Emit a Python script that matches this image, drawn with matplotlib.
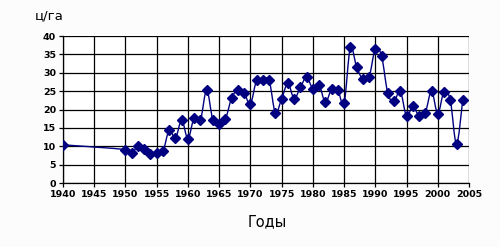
import matplotlib

matplotlib.use("Agg")
import matplotlib.pyplot as plt
import numpy as np
from matplotlib.patches import PathPatch
from matplotlib.path import Path

years = [1940] + list(range(1950, 2005))
yields = [
    10.4,
    9.1, 8.1, 10.1, 9.2, 7.8, 8.3, 8.6, 14.4, 12.2, 17.1,
    12.1, 17.8, 17.1, 25.3, 17.1, 16.0, 17.4, 23.1, 25.4, 24.5,
    21.5, 28.0, 28.0, 28.0, 19.1, 22.9, 27.1, 23.0, 26.0, 28.8,
    25.7, 26.7, 22.0, 25.5, 25.3, 21.7, 36.9, 31.6, 28.3, 28.8,
    36.5, 34.6, 24.4, 22.3, 25.0, 18.2, 20.9, 18.3, 19.1, 25.0,
    18.9, 24.9, 22.6, 10.6, 22.6,
]
x_ticks = list(range(1940, 2006, 5))
y_ticks = list(range(0, 41, 5))

NAVY = "#000080"


def smooth_path(xs, ys, tension=1.0 / 6.0):
    """Catmull-Rom style cubic Bezier path through the points (Excel-like smoothing)."""
    pts = np.column_stack([xs, ys]).astype(float)
    verts = [pts[0]]
    codes = [Path.MOVETO]
    n = len(pts)
    for i in range(n - 1):
        p0 = pts[max(i - 1, 0)]
        p1 = pts[i]
        p2 = pts[i + 1]
        p3 = pts[min(i + 2, n - 1)]
        c1 = p1 + (p2 - p0) * tension
        c2 = p2 - (p3 - p1) * tension
        verts += [c1, c2, p2]
        codes += [Path.CURVE4] * 3
    return Path(verts, codes)


fig = plt.figure(figsize=(5.0, 2.47), dpi=100)
fig.patch.set_facecolor("#fcfcfc")
ax = fig.add_axes([0.126, 0.259, 0.812, 0.595])
ax.set_facecolor("white")

ax.add_patch(PathPatch(smooth_path(years, yields), facecolor="none",
                       edgecolor=NAVY, linewidth=1.0, zorder=3))
ax.plot(years, yields, linestyle="none", marker="D", markersize=4.8,
        color=NAVY, zorder=4)

ax.set_xlim(1940, 2005)
ax.set_ylim(0, 40)
ax.set_xticks(x_ticks)
ax.set_yticks(y_ticks)
ax.grid(True, color="black", linewidth=0.9)
ax.set_axisbelow(True)
for side in ("top", "right"):
    ax.spines[side].set_visible(False)
for side in ("left", "bottom"):
    ax.spines[side].set_color("black")
    ax.spines[side].set_linewidth(0.9)
ax.tick_params(length=3, width=0.9, labelsize=6.8, pad=2)
for lab in ax.get_xticklabels() + ax.get_yticklabels():
    lab.set_fontweight("bold")

fig.text(0.128, 0.935, "ц/га", ha="right", va="center", fontsize=9.5)
fig.text(0.535, 0.102, "Годы", ha="center", va="center", fontsize=10.5)

fig.savefig("out.png", dpi=100, facecolor=fig.get_facecolor())
